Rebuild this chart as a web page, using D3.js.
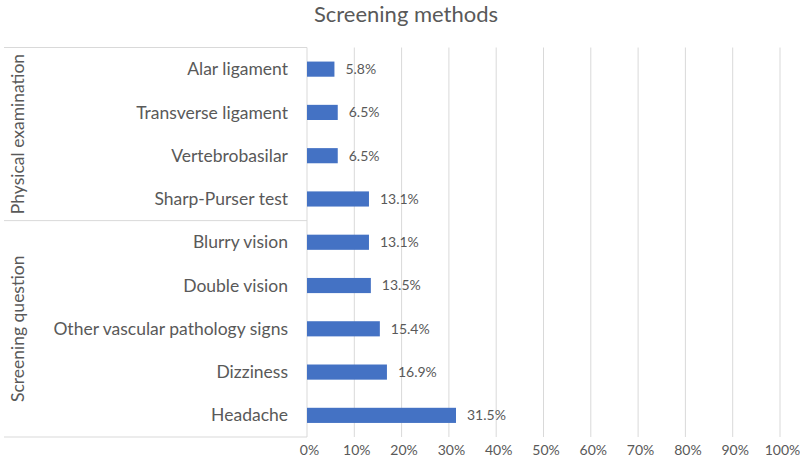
<!DOCTYPE html>
<html><head><meta charset="utf-8">
<script src="https://cdn.jsdelivr.net/npm/d3@7"></script>
<style>body{margin:0;background:#fff}svg{display:block}text{font-family:Lato,"Open Sans",sans-serif;fill:#595959}</style>
</head><body><svg id="c" width="800" height="465"></svg>
<script>
const categories = ["Alar ligament","Transverse ligament","Vertebrobasilar","Sharp-Purser test","Blurry vision","Double vision","Other vascular pathology signs","Dizziness","Headache"];
const values = [5.8, 6.5, 6.5, 13.1, 13.1, 13.5, 15.4, 16.9, 31.5];
const groups = [{name:"Physical examination", from:0, to:3},{name:"Screening question", from:4, to:8}];
const xTicks = [0,10,20,30,40,50,60,70,80,90,100];

const svg = d3.select("#c");
const L = 307, R = 780, T = 47.5, B = 437;
const x = d3.scaleLinear().domain([0,100]).range([L,R]);
const y = d3.scaleBand().domain(categories).range([T,B]).paddingInner(0.65).paddingOuter(0.325);
const band = (B-T)/categories.length;

svg.append("text").attr("x",406).attr("y",22).attr("text-anchor","middle").attr("font-size",22).text("Screening methods");

// grid
svg.append("g").selectAll("line").data(xTicks.slice(1)).join("line")
  .attr("x1",d=>x(d)).attr("x2",d=>x(d)).attr("y1",T).attr("y2",B)
  .attr("stroke","#d9d9d9").attr("stroke-width",1);

// axis labels
const ax = svg.append("g").attr("transform",`translate(0,${B})`)
  .call(d3.axisBottom(x).tickValues(xTicks).tickFormat(d=>d+"%").tickSize(0).tickPadding(0));
ax.select(".domain").remove();
ax.selectAll("text").attr("font-size",14).attr("fill","#595959").attr("font-family","Lato")
  .attr("dy",null).attr("y",18).attr("dx",2);

// category group box
const boxLeft = 4;
const bounds = [T, T + band*4, B];
svg.append("g").selectAll("line").data(bounds).join("line")
  .attr("x1",boxLeft).attr("x2",L).attr("y1",d=>d).attr("y2",d=>d)
  .attr("stroke","#d9d9d9");
svg.append("line").attr("x1",L).attr("x2",L).attr("y1",T).attr("y2",B).attr("stroke","#d9d9d9");

// group labels
groups.forEach(g=>{
  const cy = (y(categories[g.from]) - y.step()*y.paddingInner()/2 + y(categories[g.to]) + y.bandwidth() + y.step()*y.paddingInner()/2)/2;
  svg.append("text").attr("transform",`translate(24,${cy}) rotate(-90)`)
    .attr("text-anchor","middle").attr("font-size",17.5).text(g.name);
});

// category labels
svg.append("g").selectAll("text").data(categories).join("text")
  .attr("x",288).attr("y",d=>y(d)+y.bandwidth()/2).attr("dy","0.35em")
  .attr("text-anchor","end").attr("font-size",17.5).text(d=>d);

// bars
svg.append("g").selectAll("rect").data(values).join("rect")
  .attr("x",x(0)).attr("y",(d,i)=>y(categories[i])).attr("height",y.bandwidth())
  .attr("width",d=>x(d)-x(0)).attr("fill","#4472C4");

// value labels
svg.append("g").selectAll("text").data(values).join("text")
  .attr("x",d=>x(d)+11).attr("y",(d,i)=>y(categories[i])+y.bandwidth()/2).attr("dy","0.35em")
  .attr("font-size",14).text(d=>d.toFixed(1)+"%");
</script></body></html>
